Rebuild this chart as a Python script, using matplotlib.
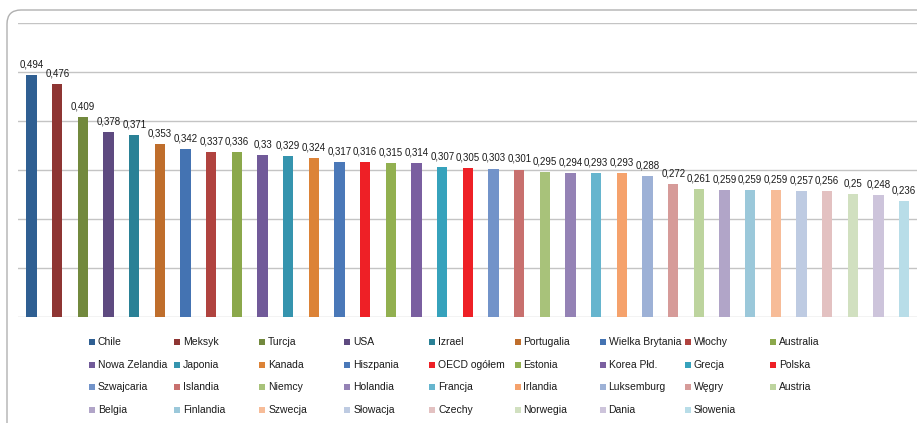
import matplotlib
matplotlib.use("Agg")
import matplotlib.pyplot as plt
import matplotlib.transforms as mtransforms
from matplotlib.patches import FancyBboxPatch, Rectangle

# dane
kraje = ["Chile", "Meksyk", "Turcja", "USA", "Izrael", "Portugalia", "Wielka Brytania",
         "Włochy", "Australia", "Nowa Zelandia", "Japonia", "Kanada", "Hiszpania",
         "OECD ogółem", "Estonia", "Korea Płd.", "Grecja", "Polska", "Szwajcaria",
         "Islandia", "Niemcy", "Holandia", "Francja", "Irlandia", "Luksemburg", "Węgry",
         "Austria", "Belgia", "Finlandia", "Szwecja", "Słowacja", "Czechy", "Norwegia",
         "Dania", "Słowenia"]
wartosci = [0.494, 0.476, 0.409, 0.378, 0.371, 0.353, 0.342, 0.337, 0.336, 0.33,
            0.329, 0.324, 0.317, 0.316, 0.315, 0.314, 0.307, 0.305, 0.303, 0.301,
            0.295, 0.294, 0.293, 0.293, 0.288, 0.272, 0.261, 0.259, 0.259, 0.259,
            0.257, 0.256, 0.25, 0.248, 0.236]
etykiety = ["0,494", "0,476", "0,409", "0,378", "0,371", "0,353", "0,342", "0,337",
            "0,336", "0,33", "0,329", "0,324", "0,317", "0,316", "0,315", "0,314",
            "0,307", "0,305", "0,303", "0,301", "0,295", "0,294", "0,293", "0,293",
            "0,288", "0,272", "0,261", "0,259", "0,259", "0,259", "0,257", "0,256",
            "0,25", "0,248", "0,236"]
kolory = ["#2F5F92", "#8E3533", "#72893D", "#5E4A80", "#2A8196", "#BF6E2C", "#4473B2",
          "#B0433F", "#8BA84B", "#715A99", "#3594AE", "#DC8337", "#4A78B8",
          "#EE2026", "#92B050", "#7A5FA0", "#36A2BC", "#EE2026", "#7293C9",
          "#C8706E", "#A8C27A", "#9482B5", "#66B5CE", "#F5A26C", "#9DB1D6", "#D69B99",
          "#BDD49E", "#B1A5C8", "#9BC8DA", "#F7BC98", "#BECBE2", "#E3C1C1", "#D1E0C0",
          "#CDC4DB", "#B8DDE8"]

W, H = 917, 423
fig = plt.figure(figsize=(W / 100, H / 100), dpi=100)
plt.rcParams['font.family'] = ['Liberation Sans', 'DejaVu Sans']

# ramka wykresu
ramka = FancyBboxPatch((7, -40), 980, 453, boxstyle="round,pad=0,rounding_size=14",
                       transform=mtransforms.IdentityTransform(),
                       facecolor="none", edgecolor="#B0B0B0", linewidth=1.0)
fig.add_artist(ramka)

ax = fig.add_axes([18 / W, (H - 316.5) / H, (W - 18) / W, 293 / H])
x = list(range(len(wartosci)))
ax.bar(x, wartosci, width=0.4, color=kolory, zorder=3)
ax.set_xlim(-0.53, 34.5)
ax.set_ylim(0, 0.6)
ax.set_yticks([0, 0.1, 0.2, 0.3, 0.4, 0.5, 0.6])
ax.grid(axis="y", color="#C4C4C4", linewidth=1.0, zorder=0)
ax.tick_params(left=False, bottom=False, labelleft=False, labelbottom=False)
for s in ax.spines.values():
    s.set_visible(False)

for xi, v, t in zip(x, wartosci, etykiety):
    ax.annotate(t, (xi, v), xytext=(0, 4), textcoords="offset points",
                ha="center", va="bottom", fontsize=7, color="#1A1A1A")

# legenda
for i, (k, c) in enumerate(zip(kraje, kolory)):
    kol = i % 9
    wiersz = i // 9
    px = 89 + kol * 85.1
    py = H - (342 + wiersz * 22.7)
    fig.add_artist(Rectangle((px / W, (py - 3) / H), 6 / W, 6 / H,
                             transform=fig.transFigure, facecolor=c, edgecolor="none"))
    fig.text((px + 9) / W, py / H, k, ha="left", va="center", fontsize=7.5, color="#1A1A1A")

fig.savefig("out.png", dpi=100)
